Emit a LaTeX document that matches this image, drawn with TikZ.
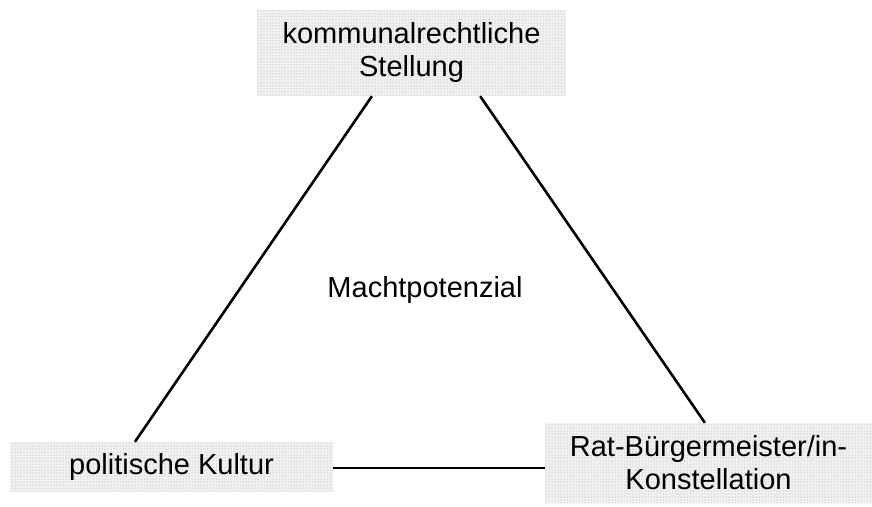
\documentclass[tikz,border=0pt]{standalone}
\usepackage{fontspec}
\setmainfont{Liberation Sans}
\usetikzlibrary{patterns,calc}
\begin{document}
\begin{tikzpicture}[x=1pt,y=-1pt,
  factor/.style={rectangle, inner sep=0pt, preaction={fill=black!5},
    pattern=dots, pattern color=black!40,
    align=center, font=\fontsize{29}{33}\selectfont},
  link/.style={line width=2.6pt, black}]
  \useasboundingbox (0,0) rectangle (872,506);
  % the three factors
  \node[factor, minimum width=309pt, minimum height=86pt] (top) at (411.5,53)
    {kommunalrechtliche\\Stellung};
  \node[factor, minimum width=323pt, minimum height=50pt] (left) at (171.5,467)
    {politische Kultur};
  \node[factor, minimum width=327pt, minimum height=80pt] (right) at (708.5,463)
    {Rat-Bürgermeister/in-\\Konstellation};
  % centre label
  \node[font=\fontsize{29}{33}\selectfont] (centre) at (425,290) {Machtpotenzial};
  % triangle sides
  \draw[link] ($(top.south west)!0.372!(top.south east)$) -- ($(left.north west)!0.387!(left.north east)$);
  \draw[link] ($(top.south west)!0.722!(top.south east)$) -- ($(right.north west)!0.489!(right.north east)$);
  \draw[link] ([yshift=-1pt]left.east) -- ([yshift=-1pt]left.east -| right.west);
\end{tikzpicture}
\end{document}
